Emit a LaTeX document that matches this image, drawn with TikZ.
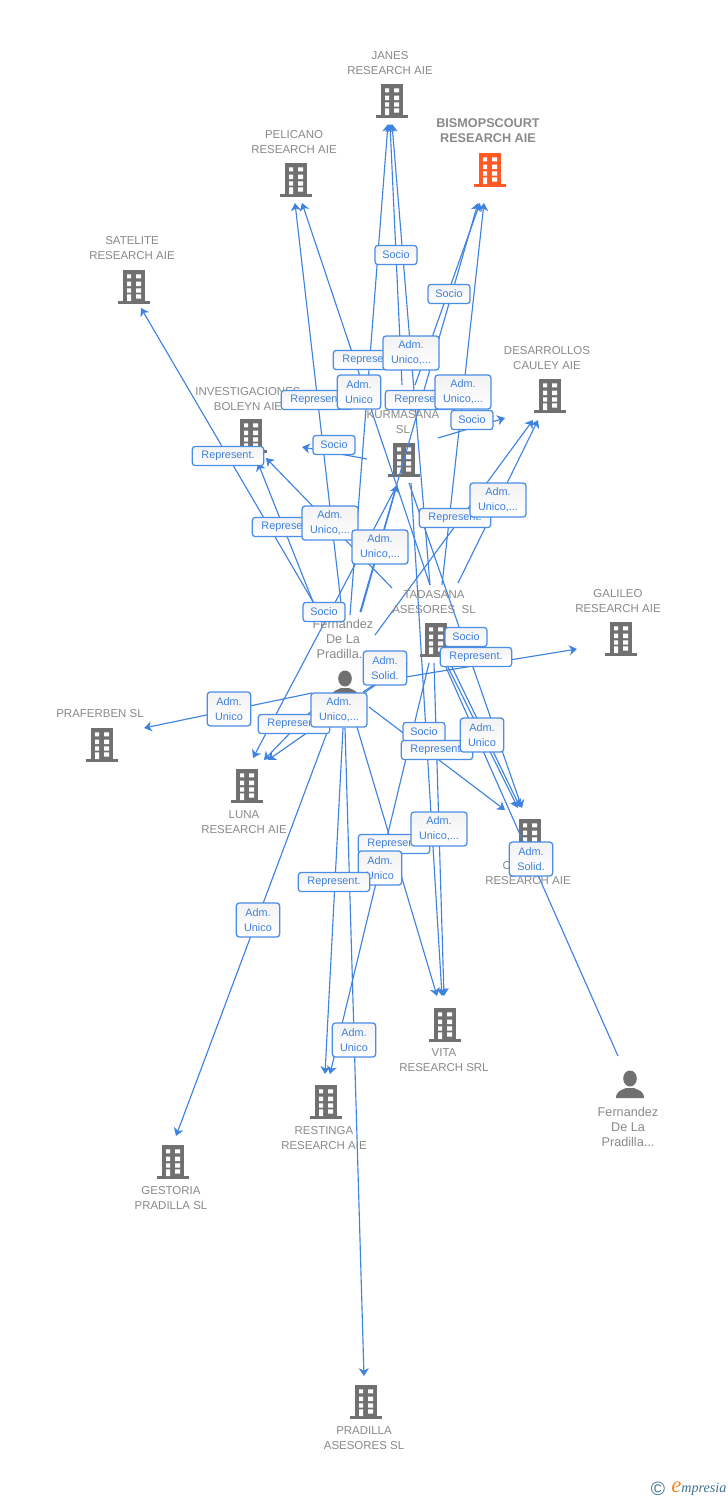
\documentclass[tikz,border=0pt]{standalone}
\usepackage{fontspec}
\setmainfont{Liberation Sans}
\newfontfamily\logofont{Liberation Serif}
\usetikzlibrary{arrows.meta}
\definecolor{edgeblue}{HTML}{3F83E0}
\definecolor{boxline}{HTML}{4A8DE6}
\definecolor{boxtext}{HTML}{3E80DC}
\definecolor{namegrey}{HTML}{8A8A8A}
\definecolor{iconmain}{HTML}{707070}
\definecolor{iconhot}{HTML}{FF5A26}
\definecolor{logoblue}{HTML}{3F7390}
\definecolor{logoorange}{HTML}{F0892A}
\tikzset{
  anchorpt/.style={inner sep=0pt,minimum size=0pt,outer sep=0pt},
  edgeline/.style={draw=edgeblue,line width=0.85pt},
  headed/.style={edgeline,-{Stealth[length=5.8pt,width=7.5pt,inset=1.7pt]}},
  namelab/.style={text=namegrey,font=\fontsize{8.6pt}{11pt}\selectfont,align=center,inner sep=0pt},
  hotlab/.style={text=namegrey,font=\fontsize{9.5pt}{11.2pt}\selectfont\bfseries,align=center,inner sep=0pt},
  perslab/.style={text=namegrey,font=\fontsize{9.5pt}{11.3pt}\selectfont,align=center,inner sep=0pt},
  relbox/.style={draw=boxline,line width=0.95pt,rounded corners=2.2pt,top color=black!5,bottom color=white,
     text=boxtext,font=\fontsize{8.15pt}{11.2pt}\selectfont,align=center,inner sep=0pt,minimum height=14.4pt},
  socio/.style={relbox,minimum width=31.5pt},
  repr/.style={relbox,minimum width=53.5pt},
  adm/.style={relbox,minimum width=32.5pt,minimum height=25.5pt},
  admlong/.style={relbox,minimum width=42pt,minimum height=25.5pt},
  pics/bldg/.style={code={
    \fill[#1] (-11,-16) rectangle (11,16);
    \fill[#1] (-16,15) rectangle (15.5,18.2);
    \fill[white] (-7,-11.7) rectangle (-3,-7.7) (2,-11.7) rectangle (7,-7.7)
                 (-7,-4.3) rectangle (-3,0) (2,-4.3) rectangle (7,0)
                 (-7,2.3) rectangle (-3,6.7) (2,2.3) rectangle (7,6.7)
                 (-7,8.3) rectangle (-3,15) (2,8.3) rectangle (7,12.5);
  }},
  pics/pers/.style={code={
    \fill[iconmain] (0,-6.5) ellipse (6.8 and 8);
    \fill[iconmain] (-14,13) .. controls (-14,6) and (-8,5) .. (-4,3) -- (4,3)
       .. controls (8,5) and (14,6) .. (14,13) -- cycle;
  }}
}
\newcommand{\bldgnode}[4]{\node[anchorpt] (#1) at (#2,#3) {}; \pic at (#1) {bldg=#4};}
\newcommand{\persnode}[3]{\node[anchorpt] (#1) at (#2,#3) {}; \pic at (#1) {pers};}
\newcommand{\arrowconn}[6]{\draw[headed] ([shift={(#2,#3)}]#1.center) -- ([shift={(#5,#6)}]#4.center);}
\newcommand{\plainconn}[6]{\draw[edgeline] ([shift={(#2,#3)}]#1.center) -- ([shift={(#5,#6)}]#4.center);}
\begin{document}
\begin{tikzpicture}[x=0.75pt,y=-0.75pt]
\useasboundingbox (0,0) rectangle (728,1500);
\fill[white] (0,0) rectangle (728,1500);

% companies and people
\bldgnode{janes}{392}{100}{iconmain}
\bldgnode{bism}{490}{169}{iconhot}
\bldgnode{peli}{296}{179}{iconmain}
\bldgnode{sate}{134}{286}{iconmain}
\bldgnode{desa}{550}{395}{iconmain}
\bldgnode{inve}{251}{435}{iconmain}
\bldgnode{kurm}{404}{459}{iconmain}
\bldgnode{tada}{436}{639}{iconmain}
\bldgnode{gali}{621}{638}{iconmain}
\bldgnode{praf}{102}{744}{iconmain}
\bldgnode{luna}{247}{785}{iconmain}
\bldgnode{cano}{530}{835}{iconmain}
\bldgnode{vita}{445}{1024}{iconmain}
\bldgnode{rest}{326}{1101}{iconmain}
\bldgnode{gest}{173}{1161}{iconmain}
\bldgnode{prad}{366}{1401}{iconmain}
\persnode{ferA}{345}{685}
\persnode{ferB}{630}{1085}

% connectors
\arrowconn{kurm}{-2}{-74}{janes}{-2}{24}
\arrowconn{tada}{-6}{-54}{janes}{0}{24}
\arrowconn{ferA}{5}{-70}{janes}{-4}{24}
\arrowconn{tada}{-6}{-54}{peli}{6}{24}
\arrowconn{ferA}{-3}{-73}{peli}{-1}{24}
\arrowconn{kurm}{11}{-74}{bism}{-10}{34}
\arrowconn{ferA}{15}{-73}{bism}{-12}{34}
\arrowconn{tada}{6}{-54}{bism}{-6}{34}
\arrowconn{kurm}{34}{-21}{desa}{-45}{23}
\arrowconn{ferA}{30}{-50}{desa}{-17}{25}
\arrowconn{tada}{22}{-56}{desa}{-12}{25}
\arrowconn{kurm}{-37}{0}{inve}{51}{12}
\arrowconn{ferA}{-26}{-73}{sate}{7}{22}
\arrowconn{ferA}{-28}{-73}{inve}{7}{28}
\arrowconn{tada}{-44}{-51}{inve}{15}{23}
\arrowconn{kurm}{-7}{26}{luna}{6}{-27}
\arrowconn{ferA}{16}{-73}{kurm}{-7}{26}
\arrowconn{kurm}{5}{24}{cano}{-8}{-27}
\arrowconn{kurm}{7}{24}{vita}{-3}{-28}
\arrowconn{tada}{-2}{24}{vita}{-1}{-28}
\arrowconn{ferA}{12}{42}{vita}{-8}{-28}
\arrowconn{tada}{-7}{24}{rest}{4}{-27}
\arrowconn{ferA}{-2}{43}{rest}{-1}{-27}
\arrowconn{ferA}{0}{43}{prad}{-2}{-25}
\arrowconn{ferA}{-17}{45}{gest}{3}{-25}
\arrowconn{ferA}{-33}{8}{praf}{42}{-16}
\arrowconn{ferA}{-23}{15}{luna}{17}{-25}
\arrowconn{tada}{-29}{24}{luna}{21}{-25}
\arrowconn{ferA}{30}{-3}{gali}{-44}{11}
\plainconn{ferA}{18}{7}{tada}{-29}{24}
\arrowconn{ferA}{24}{22}{cano}{-25}{-25}
\arrowconn{tada}{11}{26}{cano}{-12}{-27}
\arrowconn{tada}{16}{28}{cano}{-10}{-28}
\plainconn{ferB}{-12}{-29}{tada}{9}{26}

% names
\node[namelab] (janesname) at (390,63) {JANES\\RESEARCH AIE};
\node[hotlab] (bismname) at (488,131) {BISMOPSCOURT\\RESEARCH AIE};
\node[namelab] (peliname) at (294,142) {PELICANO\\RESEARCH AIE};
\node[namelab] (satename) at (132,248) {SATELITE\\RESEARCH AIE};
\node[namelab] (desaname) at (547,358) {DESARROLLOS\\CAULEY AIE};
\node[namelab] (invename) at (248,399) {INVESTIGACIONES\\BOLEYN AIE};
\node[namelab] (kurmname) at (403,422) {KURMASANA\\SL};
\node[namelab] (tadaname) at (434,602) {TADASANA\\ASESORES\ \ SL};
\node[namelab] (galiname) at (618,601) {GALILEO\\RESEARCH AIE};
\node[perslab] (feraname) at (343,639) {Fernandez\\De La\\Pradilla...};
\node[namelab] (prafname) at (100,714) {PRAFERBEN SL};
\node[namelab] (lunaname) at (244,822) {LUNA\\RESEARCH AIE};
\node[namelab] (canoname) at (528,873) {C\rule{32pt}{0pt}\\RESEARCH AIE};
\node[namelab] (vitaname) at (444,1060) {VITA\\RESEARCH SRL};
\node[perslab] (ferbname) at (628,1127) {Fernandez\\De La\\Pradilla...};
\node[namelab] (restname) at (324,1138) {RESTINGA\\RESEARCH AIE};
\node[namelab] (gestname) at (171,1198) {GESTORIA\\PRADILLA SL};
\node[namelab] (pradname) at (364,1438) {PRADILLA\\ASESORES SL};

% relation boxes
\node[socio] (b1) at (396,255) {Socio};
\node[socio] (b2) at (449,294) {Socio};
\node[repr] (b3) at (369,360) {Represent.};
\node[admlong] (b4) at (411,353) {Adm.\\Unico,...};
\node[repr] (b5) at (317,400) {Represent.};
\node[adm] (b6) at (359,392) {Adm.\\Unico};
\node[repr] (b7) at (421,400) {Represent.};
\node[admlong] (b8) at (463,392) {Adm.\\Unico,...};
\node[socio] (b9) at (472,420) {Socio};
\node[socio] (b10) at (334,445) {Socio};
\node[repr] (b11) at (228,456) {Represent.};
\node[repr] (b12) at (455,518) {Represent.};
\node[admlong] (b13) at (498,500) {Adm.\\Unico,...};
\node[repr] (b14) at (288,527) {Represent.};
\node[admlong] (b15) at (330,523) {Adm.\\Unico,...};
\node[admlong] (b16) at (380,547) {Adm.\\Unico,...};
\node[socio] (b17) at (324,612) {Socio};
\node[adm] (b18) at (385,668) {Adm.\\Solid.};
\node[socio] (b19) at (466,637) {Socio};
\node[repr] (b20) at (476,657) {Represent.};
\node[adm] (b21) at (229,709) {Adm.\\Unico};
\node[repr] (b22) at (294,724) {Represent.};
\node[admlong] (b23) at (339,710) {Adm.\\Unico,...};
\node[socio] (b24) at (424,732) {Socio};
\node[repr] (b25) at (437,750) {Represent.};
\node[adm] (b26) at (482,735) {Adm.\\Unico};
\node[repr] (b27) at (394,844) {Represent.};
\node[admlong] (b28) at (439,829) {Adm.\\Unico,...};
\node[adm] (b29) at (380,868) {Adm.\\Unico};
\node[adm] (b30) at (531,859) {Adm.\\Solid.};
\node[repr] (b31) at (334,882) {Represent.};
\node[adm] (b32) at (258,920) {Adm.\\Unico};
\node[adm] (b33) at (354,1040) {Adm.\\Unico};

% logo
\node[text=logoblue,font=\fontsize{14.5pt}{14.5pt}\selectfont,inner sep=0pt] (logoc) at (658,1489) {©};
\node[anchor=west,inner sep=0pt,text=logoblue,font=\logofont\itshape\fontsize{10.6pt}{11pt}\selectfont] (logot) at (671,1489)
  {{\color{logoorange}\fontsize{17pt}{17pt}\selectfont e}mpresia};
\end{tikzpicture}
\end{document}
